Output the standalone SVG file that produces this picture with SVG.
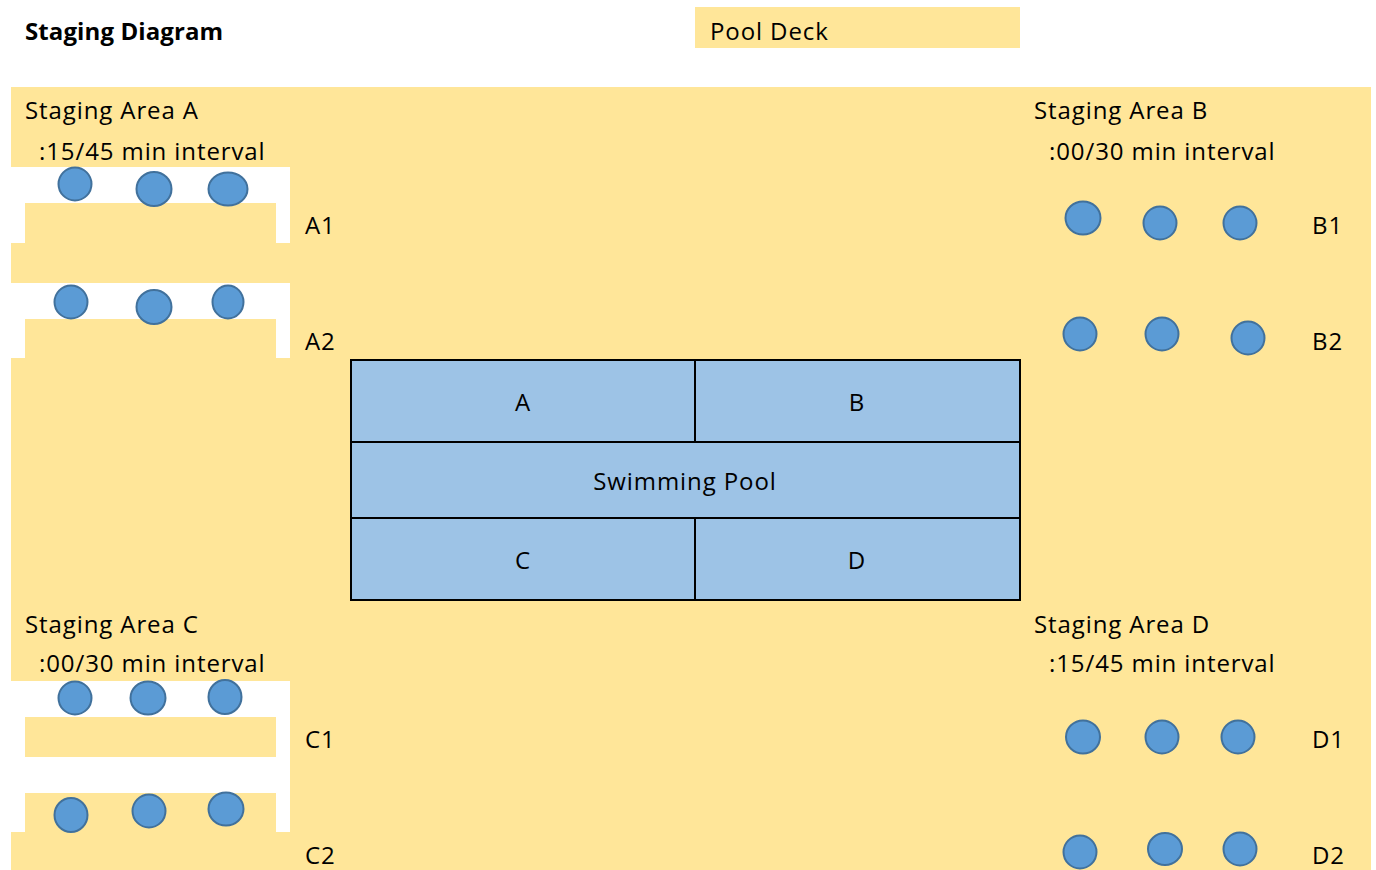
<svg xmlns="http://www.w3.org/2000/svg" width="1376" height="870" viewBox="0 0 1376 870">
<style>
text{font-family:"Open Sans","Liberation Sans",sans-serif;font-size:24px;fill:#000;letter-spacing:0.9px}
.deck{fill:#FFE699}
.cut{fill:#FFFFFF}
.seat{fill:#5B9BD5;stroke:#41719C;stroke-width:2}
.pool{fill:#9DC3E6;stroke:#000;stroke-width:2}
.mid{text-anchor:middle}
</style>
<rect width="1376" height="870" fill="#FFFFFF"/>
<g id="title"><text x="25" y="40" font-weight="bold" font-size="23" style="letter-spacing:0.1px">Staging Diagram</text></g>
<g id="legend">
<rect class="deck" x="695" y="7" width="325" height="41"/>
<text x="710" y="40">Pool Deck</text>
</g>
<g id="deck"><rect class="deck" x="11" y="87" width="1360" height="783"/></g>
<g id="staging-a">
<rect class="cut" x="11" y="167" width="279" height="76"/>
<rect class="deck" x="25" y="203" width="251" height="40"/>
<rect class="cut" x="11" y="283" width="279" height="75"/>
<rect class="deck" x="25" y="319" width="251" height="39"/>
<text x="25" y="119">Staging Area A</text>
<text x="39" y="160">:15/45 min interval</text>
<ellipse class="seat" cx="75" cy="184" rx="16.5" ry="16.5"/>
<ellipse class="seat" cx="154" cy="189" rx="17.5" ry="17"/>
<ellipse class="seat" cx="228" cy="189" rx="19.5" ry="16.5"/>
<ellipse class="seat" cx="71" cy="302" rx="16.5" ry="16.5"/>
<ellipse class="seat" cx="154" cy="307" rx="17.5" ry="17"/>
<ellipse class="seat" cx="228" cy="302" rx="15.5" ry="16.5"/>
<text x="305" y="234">A1</text>
<text x="305" y="350">A2</text>
</g>
<g id="staging-b">
<text x="1034" y="119">Staging Area B</text>
<text x="1049" y="160">:00/30 min interval</text>
<ellipse class="seat" cx="1083" cy="218" rx="17.5" ry="16.5"/>
<ellipse class="seat" cx="1160" cy="223" rx="16.5" ry="16.5"/>
<ellipse class="seat" cx="1240" cy="223" rx="16.5" ry="16.5"/>
<ellipse class="seat" cx="1080" cy="334" rx="16.5" ry="16.5"/>
<ellipse class="seat" cx="1162" cy="334" rx="16.5" ry="16.5"/>
<ellipse class="seat" cx="1248" cy="338" rx="16.5" ry="16.5"/>
<text x="1312" y="234">B1</text>
<text x="1312" y="350">B2</text>
</g>
<g id="staging-c">
<rect class="cut" x="11" y="681" width="279" height="151"/>
<rect class="deck" x="25" y="717" width="251" height="40"/>
<rect class="deck" x="25" y="793" width="251" height="39"/>
<text x="25" y="633">Staging Area C</text>
<text x="39" y="672">:00/30 min interval</text>
<ellipse class="seat" cx="75" cy="698" rx="16.5" ry="16.5"/>
<ellipse class="seat" cx="148" cy="698" rx="17.5" ry="16.5"/>
<ellipse class="seat" cx="225" cy="697" rx="16.5" ry="17"/>
<ellipse class="seat" cx="71" cy="815" rx="16.5" ry="17"/>
<ellipse class="seat" cx="149" cy="811" rx="16.5" ry="16.5"/>
<ellipse class="seat" cx="226" cy="809" rx="17.5" ry="16.5"/>
<text x="305" y="748">C1</text>
<text x="305" y="864">C2</text>
</g>
<g id="staging-d">
<text x="1034" y="633">Staging Area D</text>
<text x="1049" y="672">:15/45 min interval</text>
<ellipse class="seat" cx="1083" cy="737" rx="17" ry="16.5"/>
<ellipse class="seat" cx="1162" cy="737" rx="16.5" ry="16.5"/>
<ellipse class="seat" cx="1238" cy="737" rx="16.5" ry="16.5"/>
<ellipse class="seat" cx="1080" cy="852" rx="16.5" ry="16.5"/>
<ellipse class="seat" cx="1165" cy="849" rx="17" ry="16"/>
<ellipse class="seat" cx="1240" cy="849" rx="16.5" ry="16.5"/>
<text x="1312" y="748">D1</text>
<text x="1312" y="864">D2</text>
</g>
<g id="pool">
<rect class="pool" x="351" y="360" width="669" height="240"/>
<line x1="351" y1="442" x2="1020" y2="442" stroke="#000" stroke-width="2"/>
<line x1="351" y1="518" x2="1020" y2="518" stroke="#000" stroke-width="2"/>
<line x1="695" y1="360" x2="695" y2="442" stroke="#000" stroke-width="2"/>
<line x1="695" y1="518" x2="695" y2="600" stroke="#000" stroke-width="2"/>
<text class="mid" x="523" y="411">A</text>
<text class="mid" x="857" y="411">B</text>
<text class="mid" x="685" y="490">Swimming Pool</text>
<text class="mid" x="523" y="569">C</text>
<text class="mid" x="857" y="569">D</text>
</g>
<g id="connectors"/>
</svg>
